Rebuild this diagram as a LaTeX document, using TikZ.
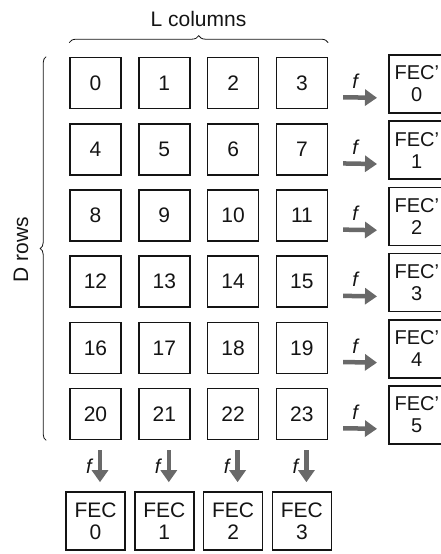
\documentclass[tikz,border=0pt]{standalone}
\usepackage{fontspec}
\setmainfont{Liberation Sans}
\usetikzlibrary{arrows.meta,positioning,decorations.pathreplacing}
\definecolor{ink}{RGB}{20,20,20}
\definecolor{halftone}{RGB}{105,105,105}
\tikzset{
  cell/.style={draw=ink,line width=1.6pt,minimum width=51pt,minimum height=51pt,
    inner sep=0pt,text=ink,font=\fontsize{21}{22}\selectfont},
  fec/.style={cell,minimum width=60pt,minimum height=58pt,align=center},
  fat/.style={draw=halftone,line width=4.5pt,-{Triangle[width=16pt,length=12pt]}},
  flab/.style={font=\fontsize{20}{20}\selectfont\itshape,text=ink,inner sep=1pt},
  lab/.style={font=\fontsize{21}{22}\selectfont,text=ink},
  curly/.style={decorate,decoration={brace,amplitude=#1},draw=ink,line width=0.8pt},
  curly/.default=8pt,
}

\begin{document}
\begin{tikzpicture}[x=1pt,y=-1pt]
  \useasboundingbox (0,0) rectangle (440,554);
  % D x L block of symbols
  \foreach \r in {0,...,5}
    \foreach \c in {0,...,3}{
      \pgfmathtruncatemacro{\n}{4*\r+\c}
      \node[cell] (c\n) at (95.5+68.8*\c,83+66.2*\r) {\n};
    }
  % row codes
  \foreach \r in {0,...,5}{
    \pgfmathtruncatemacro{\m}{4*\r+3}
    \node[fec,anchor=west,minimum width=56pt,font=\fontsize{20}{22}\selectfont] (r\r) at (388,84+66.2*\r) {FEC'\\\r};
    \draw[fat,shorten <=15pt,shorten >=11pt] ([yshift=-14pt]c\m.east) -- node[flab,above=6pt,pos=0.45]{f} ([yshift=-14pt]r\r.west);
  }
  % column codes
  \foreach \c in {0,...,3}{
    \pgfmathtruncatemacro{\m}{20+\c}
    \node[fec,minimum width=59pt] (b\c) at (95.5+68.8*\c,521) {FEC\\\c};
    \draw[fat,shorten <=10pt,shorten >=9pt] ([xshift=4.5pt]c\m.south) -- node[flab,left=5pt,pos=0.5]{f} ([xshift=4.5pt]b\c.north);
  }
  \draw[curly=7pt] ([yshift=14pt]c0.north west) -- ([yshift=14pt]c3.north east);
  \node[lab] (lcols) at (198.5,19) {L columns};
  \draw[curly=6pt] ([xshift=-23pt]c20.south west) -- ([xshift=-23pt]c0.north west);
  \node[lab,rotate=90] (drows) at (21,249.5) {D rows};
\end{tikzpicture}
\end{document}
